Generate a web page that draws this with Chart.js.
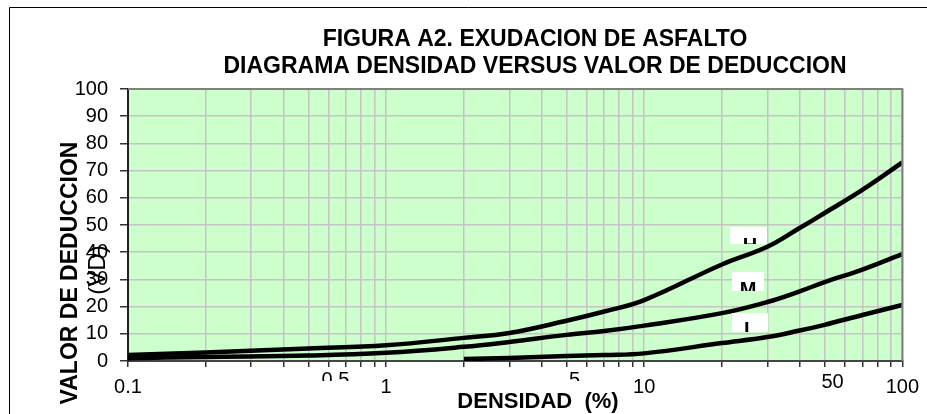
<!DOCTYPE html>
<html>
<head>
<meta charset="utf-8">
<style>
  html, body { margin: 0; padding: 0; background: #fff; }
  #wrap { width: 927px; height: 414px; }
</style>
<script src="https://cdn.jsdelivr.net/npm/chart.js@4/dist/chart.umd.min.js"></script>
</head>
<body>
<div id="wrap"><canvas id="exudacion" width="927" height="414"></canvas></div>
<script>
// values (density % on log axis)
const densidad = [0.1, 0.2, 0.5, 1, 2, 3, 5, 7, 10, 20, 30, 40, 50, 70, 100];
const curvaH = [2.2, 3.1, 4.6, 5.8, 8.5, 10.3, 14.8, 18.2, 22.4, 35.5, 42, 48.9, 54.4, 62.9, 73];
const curvaM = [1.0, 1.5, 2.0, 3.0, 5.2, 7.0, 9.6, 11.0, 13.0, 17.6, 21.7, 25.6, 29, 33.6, 39.3];
const curvaL = [null, null, null, null, 0.7, 1.1, 1.8, 2.2, 2.8, 6.6, 8.8, 11.2, 13.3, 16.9, 20.6];
const xLabels = [0.1, 1, 10, 100];
const xExtraLabels = ['0.5', '5', '50'];
const yMax = 100;

const FONT = "'Liberation Sans', Arial, sans-serif";

// all minor ticks of the log axis
const xTicks = [];
[0.1, 1, 10].forEach(function (d) {
  for (let i = 1; i < 10; i++) xTicks.push(+(d * i).toPrecision(3));
});
xTicks.push(100);

function pts(arr) {
  return densidad.map(function (x, i) { return { x: x, y: arr[i] }; });
}

function serie(label, arr) {
  return {
    label: label,
    data: pts(arr),
    borderColor: '#000',
    borderWidth: 4.5,
    pointRadius: 0,
    tension: 0.4,
    spanGaps: false
  };
}

const decor = {
  id: 'decor',
  beforeDraw: function (chart) {
    const c = chart.ctx, a = chart.chartArea;
    c.save();
    c.fillStyle = '#ccffcc';
    c.fillRect(a.left, a.top, a.right - a.left, a.bottom - a.top);
    c.restore();
  },
  afterDraw: function (chart) {
    const c = chart.ctx, a = chart.chartArea;
    c.save();
    // grey frame top / right
    c.strokeStyle = '#808080';
    c.lineWidth = 2;
    c.beginPath();
    c.moveTo(a.left, a.top);
    c.lineTo(a.right, a.top);
    c.lineTo(a.right, a.bottom);
    c.stroke();

    // outer box
    c.strokeStyle = '#000';
    c.lineWidth = 1;
    c.beginPath();
    c.moveTo(9.5, 414);
    c.lineTo(9.5, 7.5);
    c.lineTo(927, 7.5);
    c.stroke();

    // titles
    c.fillStyle = '#000';
    c.textAlign = 'center';
    c.textBaseline = 'alphabetic';
    c.font = 'bold 23px ' + FONT;
    c.fillText('FIGURA A2. EXUDACION DE ASFALTO', 535, 46);
    c.fillText('DIAGRAMA DENSIDAD VERSUS VALOR DE DEDUCCION', 535, 73);

    c.font = 'bold 22px ' + FONT;
    c.fillText('DENSIDAD  (%)', 538, 408);

    c.save();
    c.translate(77, 273);
    c.rotate(-Math.PI / 2);
    c.font = 'bold 23px ' + FONT;
    c.fillText('VALOR DE DEDUCCION', 0, 0);
    c.restore();

    c.save();
    c.translate(105, 270);
    c.rotate(-Math.PI / 2);
    c.font = '24px ' + FONT;
    c.fillText('(VD)', 0, 0);
    c.restore();

    // extra labels under the axis, partly hidden
    c.font = '20px ' + FONT;
    const xs = chart.scales.x;
    const extra = [
      { t: xExtraLabels[0], x: xs.getPixelForValue(0.5) + 27, y: 386, clip: 381 },
      { t: xExtraLabels[1], x: xs.getPixelForValue(5) + 8, y: 386, clip: 381 },
      { t: xExtraLabels[2], x: xs.getPixelForValue(50) + 8, y: 388, clip: 414 }
    ];
    extra.forEach(function (e) {
      c.save();
      c.beginPath();
      c.rect(e.x - 30, 360, 60, e.clip - 360);
      c.clip();
      c.fillText(e.t, e.x, e.y);
      c.restore();
    });

    // curve tags in white boxes, letters cut by the box
    const tags = [
      { t: 'H', x0: 730, y0: 227, x1: 767, y1: 244, tx: 750, ty: 252 },
      { t: 'M', x0: 732, y0: 272, x1: 764, y1: 291, tx: 748, ty: 296 },
      { t: 'L', x0: 732, y0: 313, x1: 768, y1: 332, tx: 750, ty: 336 }
    ];
    c.font = 'bold 20px ' + FONT;
    tags.forEach(function (g) {
      c.save();
      c.fillStyle = '#fff';
      c.fillRect(g.x0, g.y0, g.x1 - g.x0, g.y1 - g.y0);
      c.beginPath();
      c.rect(g.x0, g.y0, g.x1 - g.x0, g.y1 - g.y0);
      c.clip();
      c.fillStyle = '#000';
      c.fillText(g.t, g.tx, g.ty);
      c.restore();
    });
    c.restore();
  }
};

new Chart(document.getElementById('exudacion'), {
  type: 'line',
  data: {
    datasets: [serie('H', curvaH), serie('M', curvaM), serie('L', curvaL)]
  },
  options: {
    responsive: false,
    animation: false,
    layout: { padding: { left: 0, top: 89, right: 24, bottom: 0 } },
    plugins: {
      legend: { display: false },
      tooltip: { enabled: false },
      title: { display: false }
    },
    scales: {
      x: {
        type: 'logarithmic',
        min: 0.1,
        max: 100,
        afterBuildTicks: function (s) {
          s.ticks = xTicks.map(function (v) { return { value: v }; });
        },
        afterFit: function (s) { s.height = 53; },
        grid: { color: '#c4c4c4', lineWidth: 1.5, tickLength: 6, tickColor: '#333' },
        border: { color: '#444', width: 2 },
        ticks: {
          autoSkip: false,
          maxRotation: 0,
          padding: 8,
          color: '#000',
          font: { family: FONT, size: 20 },
          callback: function (v) {
            return xLabels.indexOf(+(+v).toPrecision(3)) >= 0 ? String(v) : '';
          }
        }
      },
      y: {
        min: 0,
        max: yMax,
        afterFit: function (s) { s.width = 128; },
        grid: { color: '#c4c4c4', lineWidth: 1.5, tickLength: 8, tickColor: '#333' },
        border: { color: '#222', width: 2 },
        ticks: {
          stepSize: 10,
          padding: 12,
          color: '#000',
          font: { family: FONT, size: 20 }
        }
      }
    }
  },
  plugins: [decor]
});
</script>
</body>
</html>
